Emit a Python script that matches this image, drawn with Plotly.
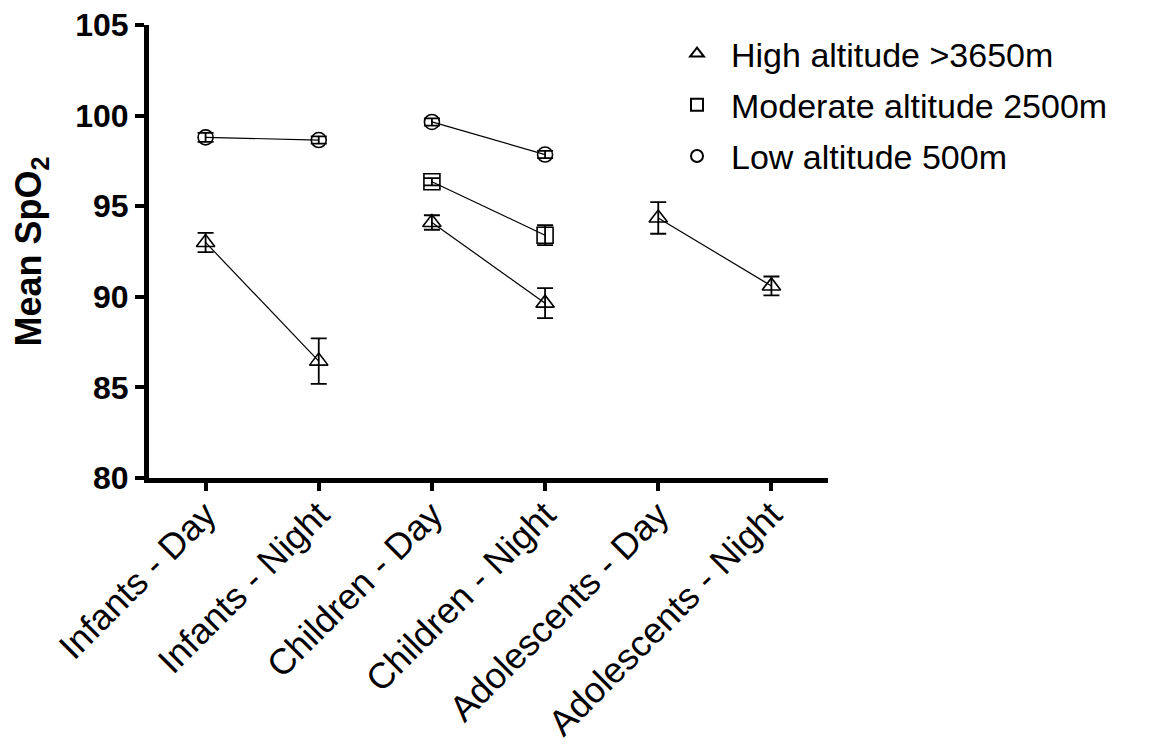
import plotly.graph_objects as go

categories = ["Infants - Day", "Infants - Night", "Children - Day",
              "Children - Night", "Adolescents - Day", "Adolescents - Night"]
series_names = ["High altitude >3650m", "Moderate altitude 2500m", "Low altitude 500m"]
high_mean = [93.0, 86.45, 94.1, 89.65, 94.35, 90.6]
high_err = [0.53, 1.26, 0.4, 0.83, 0.87, 0.52]
mod_mean = [None, None, 96.35, 93.4, None, None]
mod_err = [0, 0, 0.2, 0.55, 0, 0]
low_mean = [98.8, 98.65, 99.65, 97.85, None, None]
low_err = [0.25, 0.2, 0.2, 0.2, 0, 0]
y_ticks = [80, 85, 90, 95, 100, 105]
pairs = [(0, 1), (2, 3), (4, 5)]

symbols = ["triangle-up-open", "square-open", "circle-open"]
sizes = [16, 16, 15]
means = [high_mean, mod_mean, low_mean]
errs = [high_err, mod_err, low_err]

FONT = "Liberation Sans, Arial, sans-serif"
fig = go.Figure()

for name, m, e, sym, sz in zip(series_names, means, errs, symbols, sizes):
    lx, ly = [], []
    for a, b in pairs:
        if m[a] is not None and m[b] is not None:
            lx += [a, b, None]
            ly += [m[a], m[b], None]
    fig.add_trace(go.Scatter(x=lx, y=ly, mode="lines", showlegend=False,
                             line=dict(color="black", width=1.2), hoverinfo="skip"))
    px = [i for i in range(len(categories)) if m[i] is not None]
    fig.add_trace(go.Scatter(
        x=px, y=[m[i] for i in px], mode="markers", name=name,
        marker=dict(symbol=sym, size=sz, color="black", line=dict(width=1.6, color="black")),
        error_y=dict(type="data", array=[e[i] for i in px], visible=True,
                     color="black", thickness=1.8, width=8),
        legendgroup=name,
    ))

fig.update_layout(
    width=1152, height=747,
    margin=dict(l=149, r=324, t=25, b=269),
    paper_bgcolor="white", plot_bgcolor="white",
    font=dict(family=FONT, color="black"),
    showlegend=True,
    legend=dict(x=0.757, y=1.0, xanchor="left", yanchor="top",
                font=dict(size=34, family=FONT, color="black"),
                bgcolor="rgba(0,0,0,0)", traceorder="grouped", tracegroupgap=4,
                itemsizing="constant", itemwidth=58),
    xaxis=dict(range=[-0.5, 5.5], tickmode="array", automargin=False,
               tickvals=list(range(len(categories))), ticktext=categories,
               tickangle=-45, ticks="outside", ticklen=8, tickwidth=3.5, tickcolor="black",
               ticklabelstandoff=-12,
               showline=True, linewidth=5, linecolor="black",
               showgrid=False, zeroline=False,
               tickfont=dict(size=36, family=FONT, color="black")),
    yaxis=dict(range=[80, 105], tickmode="array", tickvals=y_ticks, automargin=False,
               ticktext=[str(t) for t in y_ticks],
               ticks="outside", ticklen=9, tickwidth=3.5, tickcolor="black",
               showline=True, linewidth=5, linecolor="black",
               showgrid=False, zeroline=False,
               tickfont=dict(size=32, family=FONT, color="black", weight="bold"),
               title=dict(text="<b>Mean SpO<sub>2</sub></b>", standoff=24,
                          font=dict(size=36, family=FONT, color="black"))),
)

fig.write_html("out.html")
